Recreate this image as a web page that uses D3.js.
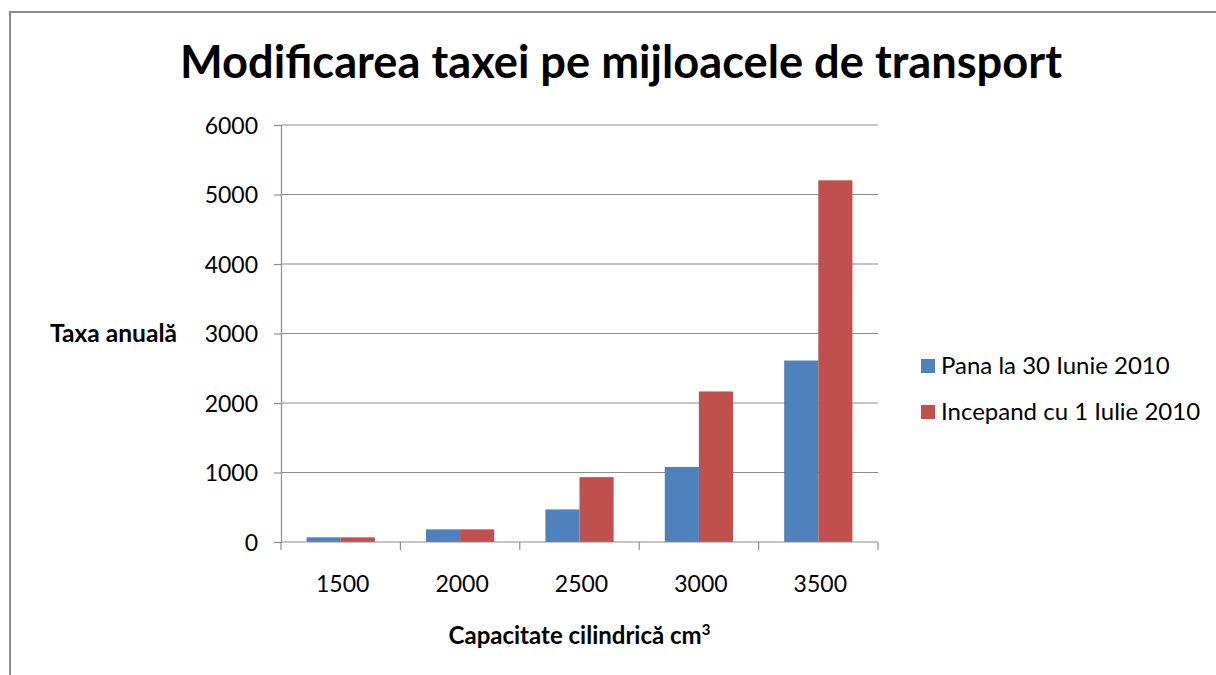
<!DOCTYPE html>
<html>
<head>
<meta charset="utf-8">
<script src="https://cdn.jsdelivr.net/npm/d3@7"></script>
<style>
  body { margin: 0; background: #fff; }
  text { font-family: Lato, "Open Sans", sans-serif; fill: #000; }
</style>
</head>
<body>
<svg id="chart" width="1216" height="675"></svg>
<script>
'use strict';

var categories = ['1500', '2000', '2500', '3000', '3500'];
var seriesNames = ['Pana la 30 Iunie 2010', 'Incepand cu 1 Iulie 2010'];
var panaValues = [67, 182, 469, 1080, 2611];
var incepandValues = [67, 182, 933, 2166, 5204];
var yTicks = [0, 1000, 2000, 3000, 4000, 5000, 6000];
var colors = ['#4f81bd', '#c0504d'];

var svg = d3.select('#chart');

// outer chart frame (runs off the right and bottom edge)
svg.append('rect')
  .attr('x', 10).attr('y', 12)
  .attr('width', 1230).attr('height', 700)
  .attr('fill', 'none')
  .attr('stroke', '#8c8c8c')
  .attr('stroke-width', 2);

var plot = { left: 281, right: 878, top: 125, bottom: 542 };

var x0 = d3.scaleBand()
  .domain(categories)
  .range([plot.left, plot.right]);

// gap width of 150% like the source spreadsheet
var x1 = d3.scaleBand()
  .domain(seriesNames)
  .range([0, x0.bandwidth()])
  .paddingOuter(0.75);

var y = d3.scaleLinear()
  .domain([0, 6000])
  .range([plot.bottom, plot.top]);

// shrink/grow a text node's font size so it spans a given width
function fitWidth(sel, width) {
  var fs = +sel.attr('font-size');
  var w = sel.node().getComputedTextLength();
  sel.attr('font-size', fs * width / w);
}

// gridlines
svg.append('g')
  .selectAll('line')
  .data(yTicks.slice(1))
  .join('line')
  .attr('x1', plot.left).attr('x2', plot.right)
  .attr('y1', function(d) { return y(d); })
  .attr('y2', function(d) { return y(d); })
  .attr('stroke', '#8c8c8c')
  .attr('stroke-width', 1.2);

// bars
var rows = categories.map(function(c, i) {
  return { cat: c, values: [panaValues[i], incepandValues[i]] };
});

svg.append('g')
  .selectAll('g')
  .data(rows)
  .join('g')
  .attr('transform', function(d) { return 'translate(' + x0(d.cat) + ',0)'; })
  .selectAll('rect')
  .data(function(d) {
    return d.values.map(function(v, k) { return { name: seriesNames[k], value: v, k: k }; });
  })
  .join('rect')
  .attr('x', function(d) { return x1(d.name); })
  .attr('width', x1.bandwidth())
  .attr('y', function(d) { return y(d.value); })
  .attr('height', function(d) { return y(0) - y(d.value); })
  .attr('fill', function(d) { return colors[d.k]; });

// y axis
var yAxis = svg.append('g')
  .attr('transform', 'translate(' + plot.left + ',0)')
  .call(d3.axisLeft(y).tickValues(yTicks).tickSize(7).tickPadding(16).tickFormat(d3.format('d')));
yAxis.select('.domain').attr('stroke', '#8c8c8c').attr('stroke-width', 1.2);
yAxis.selectAll('.tick line').attr('stroke', '#8c8c8c').attr('stroke-width', 1.2);
yAxis.selectAll('.tick text')
  .attr('font-size', 23)
  .attr('font-family', 'Lato, sans-serif')
  .attr('fill', '#111')
  .attr('dy', '0.36em');

// x axis: ticks at category boundaries
var xAxis = svg.append('g')
  .attr('transform', 'translate(0,' + plot.bottom + ')');
xAxis.append('line')
  .attr('x1', plot.left).attr('x2', plot.right)
  .attr('stroke', '#8c8c8c').attr('stroke-width', 1.2);
xAxis.selectAll('line.tk')
  .data(categories.concat(['end']))
  .join('line')
  .attr('class', 'tk')
  .attr('x1', function(d, i) { return plot.left + i * x0.step(); })
  .attr('x2', function(d, i) { return plot.left + i * x0.step(); })
  .attr('y1', 0).attr('y2', 8)
  .attr('stroke', '#8c8c8c').attr('stroke-width', 1.2);
xAxis.selectAll('text')
  .data(categories)
  .join('text')
  .attr('x', function(d) { return x0(d) + x0.bandwidth() / 2 + 2; })
  .attr('y', 50)
  .attr('text-anchor', 'middle')
  .attr('font-size', 23)
  .attr('fill', '#111')
  .text(function(d) { return d; });

// title, sized to the reference width
var title = svg.append('text')
  .attr('x', 621).attr('y', 78)
  .attr('text-anchor', 'middle')
  .attr('font-weight', 'bold')
  .attr('font-size', 40)
  .text('Modificarea taxei pe mijloacele de transport');
fitWidth(title, 882);

// axis titles
var yt = svg.append('text')
  .attr('x', 50).attr('y', 342)
  .attr('font-weight', 'bold')
  .attr('font-size', 24)
  .text('Taxa anuală');
fitWidth(yt, 127);

var xt = svg.append('text')
  .attr('x', (plot.left + plot.right) / 2).attr('y', 644)
  .attr('text-anchor', 'middle')
  .attr('font-weight', 'bold')
  .attr('font-size', 24);
xt.append('tspan').text('Capacitate cilindrică cm');
xt.append('tspan').attr('font-size', 15).attr('dy', -9).text('3');

// legend
var legend = svg.append('g')
  .selectAll('g')
  .data(seriesNames)
  .join('g')
  .attr('transform', function(d, i) { return 'translate(921,' + (359 + i * 46) + ')'; });
legend.append('rect')
  .attr('width', 14).attr('height', 14)
  .attr('fill', function(d, i) { return colors[i]; });
legend.append('text')
  .attr('x', 20).attr('y', 15)
  .attr('font-size', 24)
  .attr('fill', '#111')
  .text(function(d) { return d; });
</script>
</body>
</html>
